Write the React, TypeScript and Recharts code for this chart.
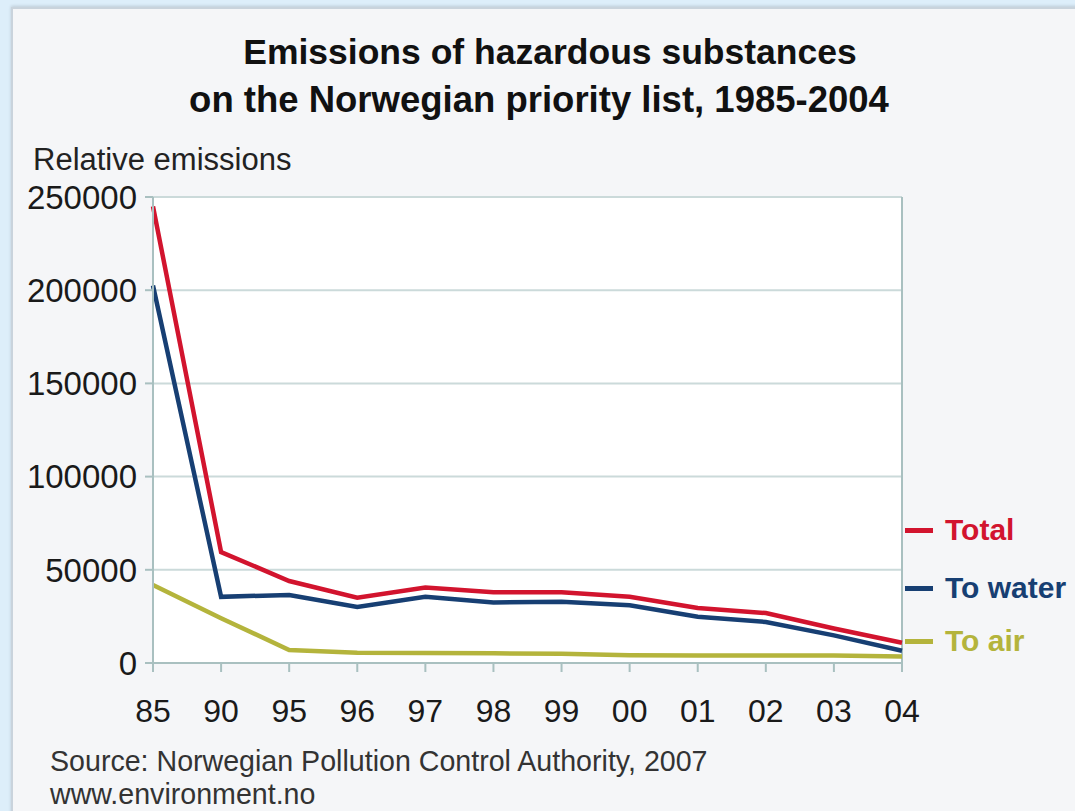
import React from 'react';
import { LineChart, Line, XAxis, YAxis, CartesianGrid, ReferenceLine } from 'recharts';

const years = ['85', '90', '95', '96', '97', '98', '99', '00', '01', '02', '03', '04'];
const total = [245000, 59500, 44000, 35000, 40500, 38000, 38000, 35500, 29500, 26800, 18500, 10900];
const toWater = [202500, 35500, 36500, 30000, 35500, 32500, 32800, 31000, 24800, 22000, 14800, 6600];
const toAir = [41800, 24000, 7000, 5500, 5300, 5200, 5000, 4200, 4000, 4000, 4000, 3500];
const yTicks = [0, 50000, 100000, 150000, 200000, 250000];

const seriesNames = ['Total', 'To water', 'To air'];
const seriesKeys = ['total', 'water', 'air'];
const seriesColors = ['#d2142e', '#173f73', '#b4b43c'];
const legendRowY = [530, 588, 641];

const data = years.map((y, i) => ({ year: y, total: total[i], water: toWater[i], air: toAir[i] }));

const FONT = '"Liberation Sans", Arial, sans-serif';
const AXIS = '#a9c0c0';
const GRID = '#cbdada';

export default function App() {
  return (
    <div style={{ position: 'absolute', left: 0, top: 0, width: 1075, height: 811, background: '#ddeefa', overflow: 'hidden', fontFamily: FONT }}>
      <div style={{ position: 'absolute', left: 11, top: 7, width: 1080, height: 820, background: '#f5f6f8', borderLeft: '2px solid #c9d3dc', borderTop: '2px solid #c9d3dc', boxShadow: '0 -1px 3px rgba(0,0,0,0.15)' }} />
      <div style={{ position: 'absolute', left: 150, width: 800, top: 30, fontSize: 35.5, fontWeight: 'bold', color: '#111', textAlign: 'center', lineHeight: '44px', whiteSpace: 'nowrap' }}>
        Emissions of hazardous substances
      </div>
      <div style={{ position: 'absolute', left: 139, width: 800, top: 78, fontSize: 36.5, fontWeight: 'bold', color: '#111', textAlign: 'center', lineHeight: '44px', whiteSpace: 'nowrap' }}>
        on the Norwegian priority list, 1985-2004
      </div>
      <div style={{ position: 'absolute', left: 33, top: 142, fontSize: 31, color: '#222', lineHeight: '36px', whiteSpace: 'nowrap' }}>
        Relative emissions
      </div>
      <div style={{ position: 'absolute', left: 50, top: 745, fontSize: 28.6, color: '#333', lineHeight: '33px', whiteSpace: 'nowrap' }}>
        Source: Norwegian Pollution Control Authority, 2007
        <br />
        www.environment.no
      </div>
      {seriesNames.map((n, i) => (
        <div key={n} style={{ position: 'absolute', left: 905, top: legendRowY[i] - 20, height: 40, display: 'flex', alignItems: 'center', whiteSpace: 'nowrap' }}>
          <span style={{ display: 'inline-block', width: 28, height: 5, background: seriesColors[i], marginRight: 12 }} />
          <span style={{ fontSize: 30, fontWeight: 'bold', color: seriesColors[i] }}>{n}</span>
        </div>
      ))}
      <div style={{ position: 'absolute', left: 0, top: 0 }}>
        <LineChart width={1075} height={811} data={data} margin={{ top: 197, right: 173, bottom: 88, left: 33 }}>
          <CartesianGrid vertical={false} stroke={GRID} strokeWidth={2} fill="#ffffff" />
          <XAxis
            dataKey="year"
            height={60}
            interval={0}
            stroke={AXIS}
            strokeWidth={2}
            tickSize={9}
            tickMargin={27}
            tick={{ fontSize: 32, fill: '#1a1a1a', fontFamily: FONT }}
          />
          <YAxis
            width={120}
            domain={[0, 250000]}
            ticks={yTicks}
            interval={0}
            stroke={AXIS}
            strokeWidth={2}
            tickSize={8}
            tickMargin={8}
            tick={{ fontSize: 33, fill: '#1a1a1a', fontFamily: FONT }}
          />
          <ReferenceLine x="04" stroke={AXIS} strokeWidth={2} />
          {seriesKeys.map((k, i) => (
            <Line
              key={k}
              dataKey={k}
              name={seriesNames[i]}
              type="linear"
              stroke={seriesColors[i]}
              strokeWidth={4.5}
              dot={false}
              activeDot={false}
              isAnimationActive={false}
            />
          ))}
        </LineChart>
      </div>
    </div>
  );
}
